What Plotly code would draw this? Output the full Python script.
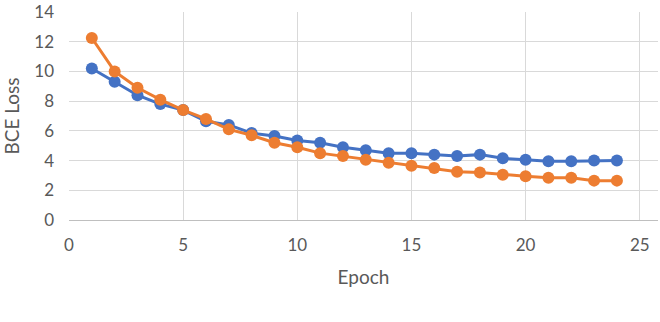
import plotly.graph_objects as go

epochs = list(range(1, 25))
blue_loss = [10.2, 9.3, 8.4, 7.8, 7.4, 6.65, 6.4, 5.85, 5.65, 5.35, 5.2, 4.9, 4.7, 4.5, 4.5, 4.4, 4.3, 4.4, 4.15, 4.05, 3.95, 3.95, 4.0, 4.0]
orange_loss = [12.25, 10.0, 8.9, 8.1, 7.4, 6.8, 6.1, 5.7, 5.2, 4.9, 4.5, 4.3, 4.05, 3.85, 3.65, 3.5, 3.25, 3.2, 3.05, 2.95, 2.85, 2.85, 2.65, 2.65]
x_ticks = [0, 5, 10, 15, 20, 25]
y_ticks = [0, 2, 4, 6, 8, 10, 12, 14]

fig = go.Figure()
fig.add_trace(go.Scatter(x=epochs, y=blue_loss, mode="lines+markers",
                         line=dict(color="#4472C4", width=3),
                         marker=dict(color="#4472C4", size=12)))
fig.add_trace(go.Scatter(x=epochs, y=orange_loss, mode="lines+markers",
                         line=dict(color="#ED7D31", width=3),
                         marker=dict(color="#ED7D31", size=12)))

font = dict(family="Lato, Open Sans, sans-serif", size=17, color="#595959")
fig.update_layout(
    width=660, height=322,
    margin=dict(l=69, r=2, t=12, b=102),
    paper_bgcolor="white", plot_bgcolor="white",
    showlegend=False,
    font=font,
    xaxis=dict(range=[0, 25.8], tickvals=x_ticks, showgrid=True, gridcolor="#D9D9D9",
               gridwidth=1, zeroline=False, showline=True, linecolor="#BFBFBF", linewidth=1,
               ticks="", ticklabelstandoff=10,
               title=dict(text="Epoch", font=dict(size=19), standoff=16),
               tickfont=font),
    yaxis=dict(range=[0, 14], tickvals=y_ticks, showgrid=True, gridcolor="#D9D9D9",
               gridwidth=1, zeroline=False, showline=False, ticks="", ticklabelstandoff=14,
               title=dict(text="BCE Loss", font=dict(size=19), standoff=16),
               tickfont=font),
)
fig.write_html("out.html")
